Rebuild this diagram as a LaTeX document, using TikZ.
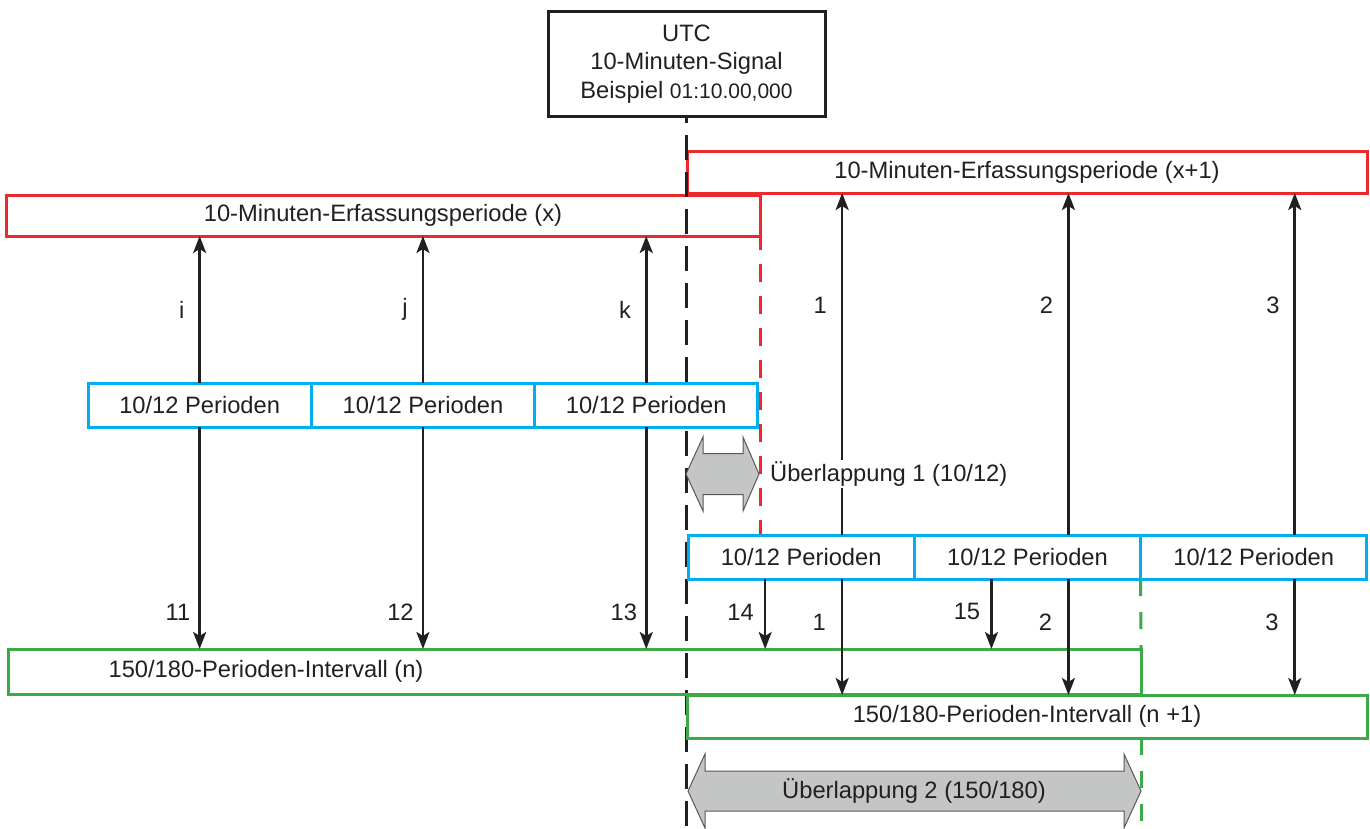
\documentclass[tikz,border=0pt]{standalone}
\usepackage{fontspec}
\setmainfont{Liberation Sans}
\usetikzlibrary{arrows.meta, calc, positioning}
\definecolor{erfred}{HTML}{EC2A2E}
\definecolor{perblue}{HTML}{00AEEF}
\definecolor{intgreen}{HTML}{3DAA49}
\definecolor{txtdark}{HTML}{231F20}
\definecolor{ovgray}{HTML}{C4C5C5}
\tikzset{
  % Erfassungsperioden (rot)
  erfbox/.style={draw=erfred, line width=3pt, minimum height=42pt, inner sep=0pt, outer sep=0pt},
  % 10/12-Perioden-Bloecke (blau)
  perbox/.style={draw=perblue, line width=3pt, fill=white, minimum height=44pt, inner sep=0pt,
    outer sep=0pt},
  % 150/180-Perioden-Intervalle (gruen)
  intbox/.style={draw=intgreen, line width=3pt, minimum height=44pt, inner sep=0pt, outer sep=0pt},
  % UTC-Kasten
  utcbox/.style={draw=txtdark, line width=3pt, fill=white, minimum width=277pt,
    minimum height=105pt, align=center, inner sep=0pt, outer sep=0pt},
  % Zuordnungspfeile und ihre Nummern
  zuord/.style={-{Stealth[length=17pt, width=13pt, inset=4pt]}, line width=2.6pt, txtdark},
  nr/.style={left, inner sep=0pt},
  % gestrichelte Grenzen
  utcline/.style={dashed, dash pattern=on 25pt off 12pt, dash phase=19pt, line width=2.8pt, txtdark},
  erfdash/.style={dashed, dash pattern=on 18pt off 14pt, line width=3pt, erfred},
  intdash/.style={dashed, dash pattern=on 17pt off 16pt, line width=3pt, intgreen},
  % Ueberlappungspfeile
  ueber/.style={fill=ovgray, draw=txtdark!75, line width=1pt},
}

\begin{document}
\begin{tikzpicture}[x=1pt, y=-1pt,
    every node/.style={font=\fontsize{23.7}{28.5}\selectfont, text=txtdark}]
  \useasboundingbox (0,0) rectangle (1370,828);
  \coordinate (unten) at (0,828);

  \node[utcbox] (utc) at (686.5,64)
    {UTC\\10-Minuten-Signal\\Beispiel {\fontsize{21}{28.5}\selectfont 01:10.00,000}};

  % Erfassungsperioden
  \node[erfbox, minimum width=680pt] (rxn) at (1027,172) {10-Minuten-Erfassungsperiode (x+1)};
  \node[erfbox, minimum width=754pt, minimum height=41pt] (rx) at (383,215.5) {10-Minuten-Erfassungsperiode (x)};

  % Grenzlinien
  \draw[utcline] (utc.south) -- (utc.south |- unten);
  \draw[erfdash] ([yshift=4pt]rx.south east) -- (rx.south east |- 0,535);

  % Perioden (x)
  \node[perbox, minimum width=223.3pt] (pa1) at (199.65,405) {10/12 Perioden};
  \node[perbox, minimum width=223.3pt, right=0pt of pa1] (pa2) {10/12 Perioden};
  \node[perbox, minimum width=223.3pt, right=0pt of pa2] (pa3) {10/12 Perioden};

  % Perioden (x+1)
  \node[perbox, minimum width=226.3pt] (pb1) at (801.15,557) {10/12 Perioden};
  \node[perbox, minimum width=226.3pt, right=0pt of pb1] (pb2) {10/12 Perioden};
  \node[perbox, minimum width=226.3pt, right=0pt of pb2] (pb3) {10/12 Perioden};

  % Intervalle
  \node[intbox, minimum width=1133pt, minimum height=45pt] (gn) at (574.5,671.5) {};
  \node (gntext) at (266,671.5) {150/180-Perioden-Intervall (n)};
  \node[intbox, minimum width=680pt, minimum height=43pt] (gnn) at (1027,716.5) {150/180-Perioden-Intervall (n +1)};
  \draw[intdash] (pb3.south west) -- (gn.north east);
  \draw[intdash] (gn.north east |- gnn.south) -- (gn.north east |- unten);

  % Pfeile der Perioden (x)
  \foreach \b/\o/\u in {pa1/i/11, pa2/j/12, pa3/k/13} {
    \draw[zuord] (\b.north) -- (\b.north |- rx.south)
      node[nr, pos=0.5, xshift=-14pt] {\o};
    \draw[zuord] (\b.south) -- (\b.south |- gn.north)
      node[nr, pos=0.833, xshift=-8pt] {\u};
  }

  % Pfeile der Perioden (x+1)
  \foreach \b/\n in {pb1/1, pb2/2, pb3/3} {
    \draw[zuord] ([xshift=41pt]\b.north) -- ([xshift=41pt]\b.north |- rxn.south)
      node[nr, pos=0.672, xshift=-14pt] {\n};
    \draw[zuord] ([xshift=41pt]\b.south) -- ([xshift=41pt]\b.south |- gnn.north)
      node[nr, pos=0.37, xshift=-15pt] {\n};
  }
  \foreach \b/\n in {pb1/14, pb2/15} {
    \draw[zuord] ([xshift=-36pt]\b.south) -- ([xshift=-36pt]\b.south |- gn.north)
      node[nr, pos=0.47, xshift=-10pt] {\n};
  }

  % Ueberlappungen
  \filldraw[ueber] (686,474) -- (703,437) -- (703,453.5) -- (743,453.5) -- (743,437)
    -- (759,474) -- (743,511) -- (743,494.5) -- (703,494.5) -- (703,511) -- cycle;
  \node[anchor=west, fill=white, inner sep=2pt] (ue1) at (768,474) {Überlappung 1 (10/12)};
  \filldraw[ueber] (688,791) -- (705,754) -- (705,771) -- (1124,771) -- (1124,754)
    -- (1141,791) -- (1124,828) -- (1124,811) -- (705,811) -- (705,828) -- cycle;
  \node (ue2) at (914,791) {Überlappung 2 (150/180)};
\end{tikzpicture}
\end{document}
